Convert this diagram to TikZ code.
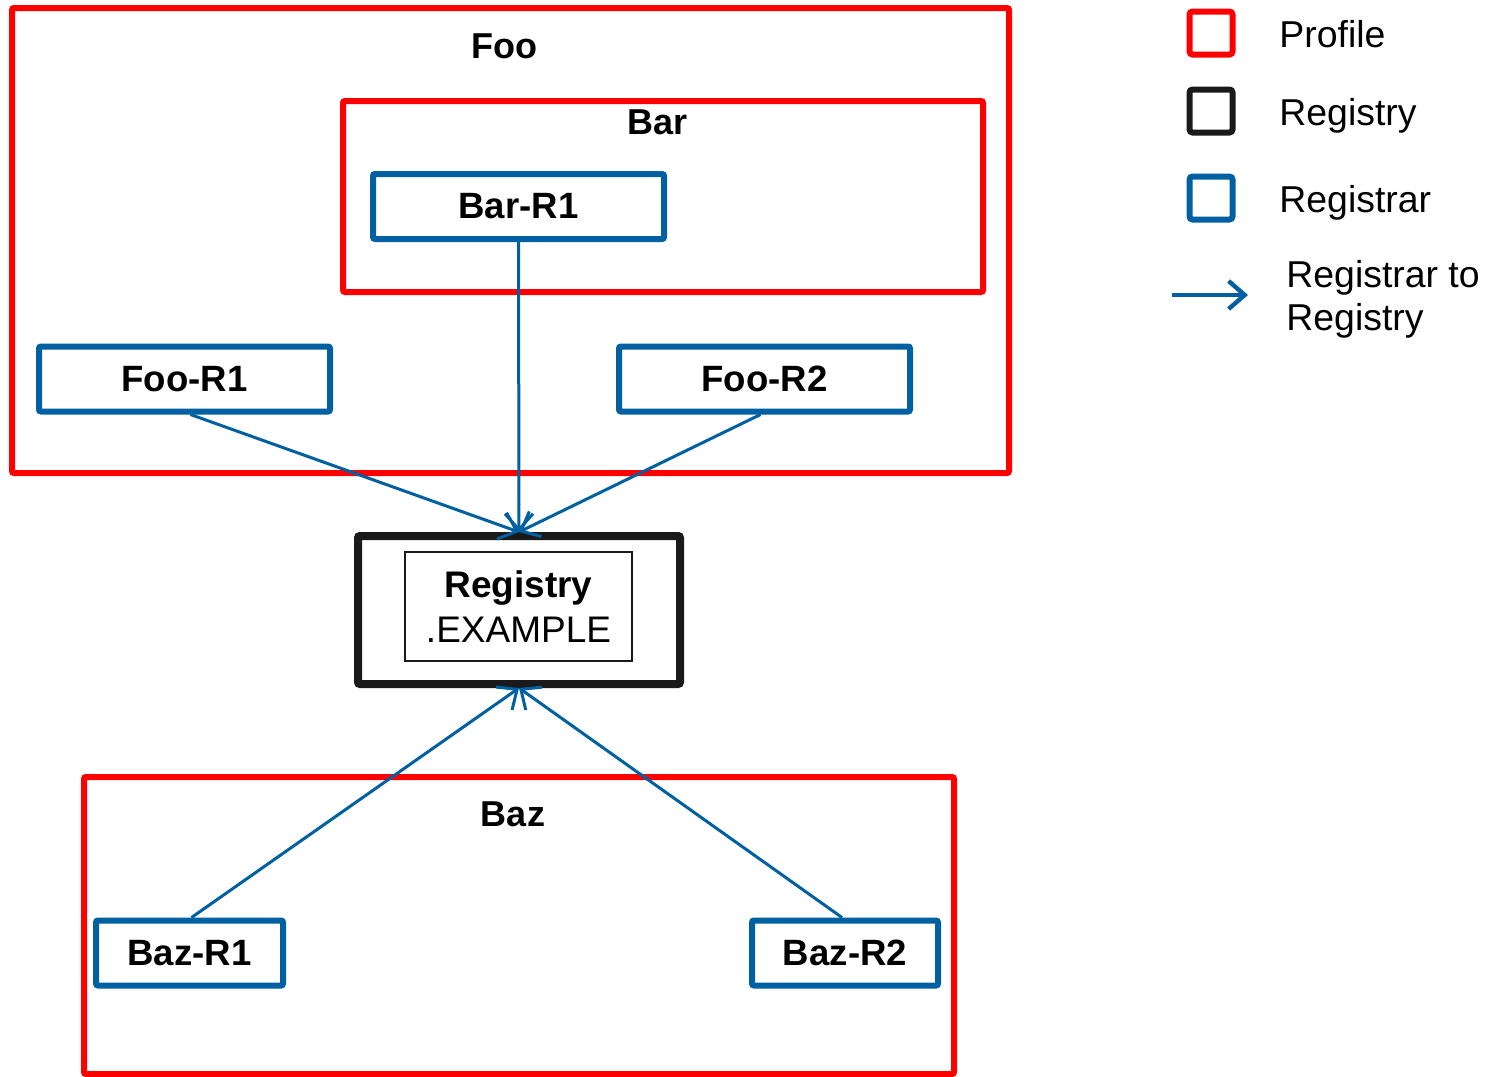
\documentclass[tikz,border=0pt]{standalone}
\usepackage{fontspec}
\setmainfont{Liberation Sans}
\usetikzlibrary{arrows.meta, positioning}
\definecolor{profred}{RGB}{255,0,0}
\definecolor{regblue}{RGB}{0,96,162}
\definecolor{regblack}{RGB}{26,26,26}

\begin{document}
\begin{tikzpicture}[
x=0.5pt, y=-0.5pt,
profile/.style={rectangle, draw=profred, line width=3pt, rounded corners=1pt, inner sep=0pt},
proflabel/.style={font=\fontsize{18}{21}\selectfont\bfseries},
registrar/.style={rectangle, draw=regblue, line width=3pt, rounded corners=1pt, minimum height=32.5pt, font=\fontsize{18.3}{21}\selectfont\bfseries},
registry/.style={rectangle, draw=regblack, line width=4pt, rounded corners=1pt, minimum width=161pt, minimum height=74pt},
legbox/.style={rectangle, draw=#1, line width=3pt, rounded corners=1.5pt, minimum size=21.5pt, inner sep=0pt},
legtext/.style={anchor=base west, inner sep=0pt, font=\fontsize{18.7}{21.5}\selectfont, align=left},
arrow/.style={draw=regblue, line width=1.5pt, -{Straight Barb[length=8pt, width=14pt]}}
]
\useasboundingbox (0,0) rectangle (1495,1077);

\node[profile, minimum width=498.5pt, minimum height=232.5pt] (foo) at (510.5,240.5) {};
\node[proflabel] (foolbl) at (504,46) {Foo};
\node[profile, minimum width=320pt, minimum height=95.5pt] (bar) at (663,196.5) {};
\node[proflabel] (barlbl) at (658,122) {Bar};
\node[profile, minimum width=435pt, minimum height=148.5pt] (baz) at (519,925.5) {};
\node[proflabel] (bazlbl) at (513,814) {Baz};

\node[registrar, minimum width=145.5pt] (barr1) at (518.5,206.5) {Bar-R1};
\node[registrar, minimum width=145.5pt] (foor1) at (184.5,379) {Foo-R1};
\node[registrar, minimum width=145.5pt] (foor2) at (764.5,379) {Foo-R2};
\node[registrar, minimum width=93.5pt] (bazr1) at (189.5,953) {Baz-R1};
\node[registrar, minimum width=93pt] (bazr2) at (845,953) {Baz-R2};

\node[registry] (reg) at (519,610) {};
\node[draw=regblack, line width=0.7pt, minimum width=113.5pt, minimum height=54.5pt, align=center,
  font=\fontsize{18.5}{22.5}\selectfont] (regname) at (518.5,606.5) {\textbf{Registry}\\.EXAMPLE};

\draw[arrow] ([xshift=3pt]foor1.south) -- (reg.north);
\draw[arrow] (barr1.south) -- (reg.north);
\draw[arrow] ([xshift=-2pt]foor2.south) -- (reg.north);
\draw[arrow] ([xshift=1pt]bazr1.north) -- (reg.south);
\draw[arrow] ([xshift=-1.5pt]bazr2.north) -- (reg.south);

\node[legbox=profred] (legprof) at (1211,33) {};
\node[legbox=regblack] (legreg) at (1211,111) {};
\node[legbox=regblue] (legrar) at (1211,198) {};
\coordinate (legfrom) at (1172,295);
\coordinate (legto) at (1248,295);
\draw[arrow, line width=2.2pt] (legfrom) -- (legto);
\node[legtext] (legproft) at (1279,47) {Profile};
\node[legtext] (legregt) at (1279,125) {Registry};
\node[legtext] (legrart) at (1279,212) {Registrar};
\node[legtext, anchor=west] (legarrt) at (1286,299) {Registrar to\\Registry};

\end{tikzpicture}
\end{document}
